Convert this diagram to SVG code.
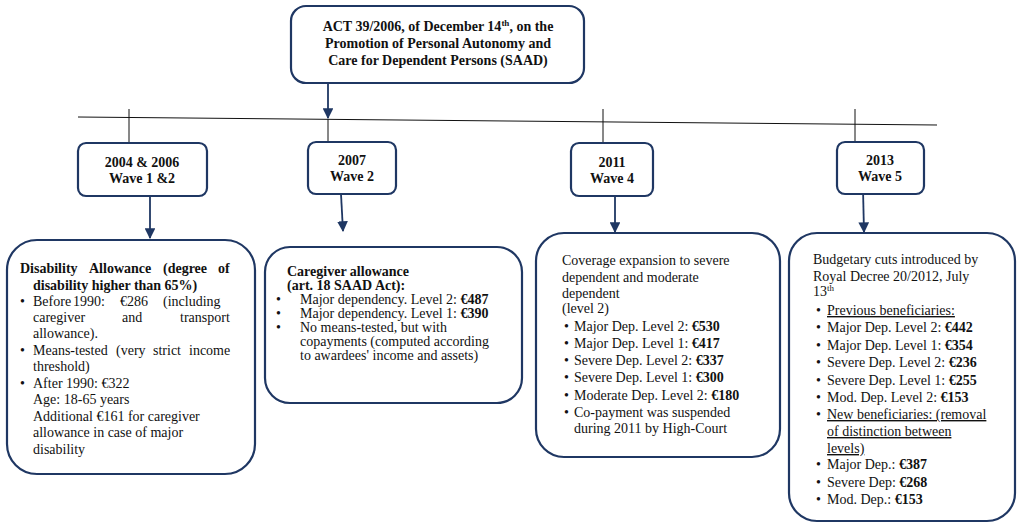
<svg xmlns="http://www.w3.org/2000/svg" width="1024" height="532" viewBox="0 0 1024 532">
<style>
text{font-family:"Liberation Serif","Times New Roman",serif;font-size:14px;fill:#111}
.b{font-weight:bold}
.c{text-anchor:middle}
.box{fill:#fff;stroke:#1f3763;stroke-width:2.2}
.ln{stroke:#111;stroke-width:1;fill:none}
.ar{stroke:#1f3763;stroke-width:1.8;fill:none;marker-end:url(#ah)}
.u{text-decoration:underline}
</style>
<defs>
<marker id="ah" viewBox="0 0 10 10" refX="9" refY="5" markerWidth="6" markerHeight="6" orient="auto" markerUnits="strokeWidth">
<path d="M0,0 L10,5 L0,10 z" fill="#1f3763"/>
</marker>
</defs>
<rect width="1024" height="532" fill="#fff"/>
<g id="connectors">
<line class="ln" x1="78" y1="117" x2="937" y2="125"/>
<line class="ln" x1="129" y1="109" x2="129" y2="143"/>
<line class="ln" x1="328" y1="119" x2="328" y2="142"/>
<line class="ln" x1="603" y1="109" x2="603" y2="143"/>
<line class="ln" x1="855" y1="109" x2="855" y2="142"/>
<line class="ar" x1="328" y1="83" x2="328" y2="118"/>
<line class="ar" x1="150" y1="196" x2="150" y2="238"/>
<line class="ar" x1="341" y1="194" x2="343" y2="231"/>
<line class="ar" x1="615" y1="196" x2="615" y2="232"/>
<line class="ar" x1="863" y1="189" x2="864" y2="232"/>
</g>
<g id="act">
<rect class="box" x="291" y="6" width="293" height="77" rx="15"/>
<text class="b c" x="438" y="31">ACT 39/2006, of December 14<tspan dy="-5" font-size="9">th</tspan><tspan dy="5">, on the</tspan></text>
<text class="b c" x="438" y="48">Promotion of Personal Autonomy and</text>
<text class="b c" x="438" y="65">Care for Dependent Persons (SAAD)</text>
</g>
<g id="wave1">
<rect class="box" x="78" y="143" width="129" height="53" rx="8"/>
<text class="b c" x="142" y="167">2004 &amp; 2006</text>
<text class="b c" x="142" y="183">Wave 1 &amp;2</text>
</g>
<g id="wave2">
<rect class="box" x="308" y="142" width="88" height="52" rx="8"/>
<text class="b c" x="352" y="165">2007</text>
<text class="b c" x="352" y="181">Wave 2</text>
</g>
<g id="wave4">
<rect class="box" x="571" y="143" width="82" height="53" rx="8"/>
<text class="b c" x="612" y="167">2011</text>
<text class="b c" x="612" y="183">Wave 4</text>
</g>
<g id="wave5">
<rect class="box" x="837" y="142" width="87" height="52" rx="8"/>
<text class="b c" x="880" y="165">2013</text>
<text class="b c" x="880" y="181">Wave 5</text>
</g>
<g id="box1">
<rect class="box" x="7" y="240" width="248" height="234" rx="30"/>
<text class="b" y="273"><tspan x="20">Disability</tspan><tspan x="89">Allowance</tspan><tspan x="163">(degree</tspan><tspan x="218">of</tspan></text>
<text class="b" x="33" y="290">disability higher than 65%)</text>
<text x="20" y="306">•</text>
<text y="306"><tspan x="33">Before</tspan><tspan x="73">1990:</tspan><tspan x="120">€286</tspan><tspan x="163">(including</tspan></text>
<text y="322"><tspan x="33">caregiver</tspan><tspan x="122">and</tspan><tspan x="180">transport</tspan></text>
<text x="33" y="338">allowance).</text>
<text x="20" y="355">•</text>
<text y="355"><tspan x="33">Means-tested</tspan><tspan x="116">(very</tspan><tspan x="153">strict</tspan><tspan x="189">income</tspan></text>
<text x="33" y="371">threshold)</text>
<text x="20" y="388">•</text>
<text x="33" y="388">After 1990: €322</text>
<text x="33" y="404">Age: 18-65 years</text>
<text x="33" y="421">Additional €161 for caregiver</text>
<text x="33" y="437">allowance in case of major</text>
<text x="33" y="454">disability</text>
</g>
<g id="box2">
<rect class="box" x="265" y="247" width="257" height="156" rx="25"/>
<text class="b" x="287" y="276">Caregiver allowance</text>
<text class="b" x="287" y="290">(art. 18 SAAD Act):</text>
<text x="276" y="304">•</text><text x="300" y="304">Major dependency. Level 2: <tspan class="b">€487</tspan></text>
<text x="276" y="318">•</text><text x="300" y="318">Major dependency. Level 1: <tspan class="b">€390</tspan></text>
<text x="276" y="332">•</text><text x="300" y="332">No means-tested, but with</text>
<text x="300" y="346">copayments (computed according</text>
<text x="300" y="360">to awardees' income and assets)</text>
</g>
<g id="box3">
<rect class="box" x="536" y="233" width="244" height="224" rx="28"/>
<text x="562" y="265">Coverage expansion to severe</text>
<text x="562" y="282">dependent and moderate</text>
<text x="562" y="298">dependent</text>
<text x="562" y="313">(level 2)</text>
<text x="564" y="331">•</text><text x="574" y="331">Major Dep. Level 2: <tspan class="b">€530</tspan></text>
<text x="564" y="348">•</text><text x="574" y="348">Major Dep. Level 1: <tspan class="b">€417</tspan></text>
<text x="564" y="365">•</text><text x="574" y="365">Severe Dep. Level 2: <tspan class="b">€337</tspan></text>
<text x="564" y="382">•</text><text x="574" y="382">Severe Dep. Level 1: <tspan class="b">€300</tspan></text>
<text x="564" y="400">•</text><text x="574" y="400">Moderate Dep. Level 2: <tspan class="b">€180</tspan></text>
<text x="564" y="417">•</text><text x="574" y="417">Co-payment was suspended</text>
<text x="574" y="433">during 2011 by High-Court</text>
</g>
<g id="box4">
<rect class="box" x="789" y="233" width="226" height="288" rx="28"/>
<text x="813" y="264">Budgetary cuts introduced by</text>
<text x="813" y="281">Royal Decree 20/2012, July</text>
<text x="813" y="296">13<tspan dy="-5" font-size="9">th</tspan></text>
<text x="816" y="315">•</text><text class="u" x="827" y="315">Previous beneficiaries:</text>
<text x="816" y="332">•</text><text x="827" y="332">Major Dep. Level 2: <tspan class="b">€442</tspan></text>
<text x="816" y="350">•</text><text x="827" y="350">Major Dep. Level 1: <tspan class="b">€354</tspan></text>
<text x="816" y="367">•</text><text x="827" y="367">Severe Dep. Level 2: <tspan class="b">€236</tspan></text>
<text x="816" y="385">•</text><text x="827" y="385">Severe Dep. Level 1: <tspan class="b">€255</tspan></text>
<text x="816" y="402">•</text><text x="827" y="402">Mod. Dep. Level 2: <tspan class="b">€153</tspan></text>
<text x="816" y="419">•</text><text class="u" x="827" y="419">New beneficiaries: (removal</text>
<text class="u" x="827" y="436">of distinction between</text>
<text class="u" x="827" y="453">levels)</text>
<text x="816" y="469">•</text><text x="827" y="469">Major Dep.: <tspan class="b">€387</tspan></text>
<text x="816" y="487">•</text><text x="827" y="487">Severe Dep: <tspan class="b">€268</tspan></text>
<text x="816" y="504">•</text><text x="827" y="504">Mod. Dep.: <tspan class="b">€153</tspan></text>
</g>
</svg>
